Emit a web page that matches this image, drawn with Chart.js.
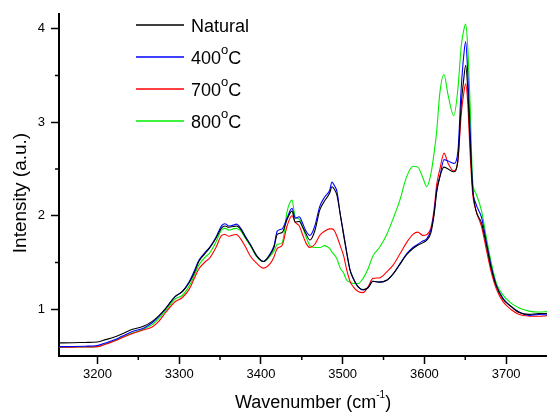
<!DOCTYPE html>
<html>
<head>
<meta charset="utf-8">
<script src="https://cdn.jsdelivr.net/npm/chart.js@4.4.1/dist/chart.umd.min.js"></script>
<style>
  html, body { margin: 0; padding: 0; background: #fff; }
  #wrap { width: 547px; height: 416px; }
</style>
</head>
<body>
<div id="wrap"><canvas id="chart"></canvas></div>
<script>
// wavenumber (cm-1) sample positions
const wavenumber = [3153,3170,3185,3200,3210,3220,3230,3243,3257,3267,3275,3283,3295,3304,3312,3318,3324,3331,3338,3345,
  3352,3356,3361,3366,3370,3375,3381,3387,3395,3403,3411,3416,3420,3426,3432,3438,3442,3447,3451,3455,
  3460,3466,3472,3478,3484,3487,3490,3493,3497,3501,3505,3509,3513,3519,3525,3531,3537,3545,3554,3562,
  3570,3578,3586,3592,3598,3603,3608,3612,3615,3619,3624,3629,3636,3641,3645,3648,3650.5,3653,3656,3659,
  3663,3670,3676,3682,3688,3696,3706,3716,3728,3740,3750];

const natural = [0.64,0.642,0.645,0.65,0.675,0.70,0.735,0.785,0.82,0.87,0.93,1.005,1.135,1.19,1.28,1.38,1.51,1.59,1.665,1.76,
  1.87,1.89,1.877,1.885,1.89,1.86,1.77,1.69,1.57,1.51,1.58,1.66,1.80,1.82,1.96,2.05,1.93,1.94,1.88,1.81,
  1.74,1.84,2.06,2.16,2.24,2.31,2.28,2.22,2.02,1.80,1.60,1.42,1.33,1.24,1.21,1.23,1.30,1.29,1.31,1.38,
  1.48,1.58,1.65,1.685,1.71,1.74,1.82,2.02,2.25,2.42,2.52,2.50,2.47,2.60,3.18,3.45,3.61,3.36,2.78,2.30,
  2.06,1.92,1.68,1.43,1.25,1.11,1.03,0.965,0.945,0.955,0.955];

const c400 = [0.60,0.602,0.605,0.612,0.64,0.67,0.71,0.762,0.80,0.855,0.92,1.0,1.135,1.19,1.29,1.40,1.52,1.60,1.67,1.77,
  1.894,1.915,1.89,1.90,1.91,1.87,1.78,1.695,1.57,1.51,1.59,1.68,1.835,1.86,1.975,2.08,1.975,1.99,1.92,1.84,
  1.79,1.89,2.10,2.20,2.27,2.36,2.32,2.26,2.02,1.82,1.61,1.42,1.33,1.24,1.206,1.23,1.30,1.29,1.31,1.38,
  1.485,1.59,1.66,1.695,1.73,1.755,1.85,2.04,2.27,2.42,2.60,2.585,2.56,2.69,3.355,3.70,3.86,3.53,2.90,2.30,
  2.13,1.98,1.71,1.45,1.255,1.12,1.03,0.97,0.935,0.944,0.94];

const c700 = [0.594,0.595,0.597,0.60,0.625,0.657,0.695,0.74,0.78,0.81,0.87,0.96,1.08,1.126,1.21,1.32,1.43,1.50,1.555,1.66,
  1.79,1.80,1.78,1.795,1.80,1.755,1.67,1.57,1.49,1.44,1.485,1.56,1.65,1.685,1.89,2.0,1.93,1.89,1.80,1.71,
  1.66,1.695,1.79,1.835,1.86,1.86,1.84,1.78,1.68,1.58,1.42,1.30,1.24,1.19,1.178,1.24,1.33,1.335,1.40,1.475,
  1.59,1.71,1.80,1.825,1.79,1.80,1.87,2.08,2.33,2.50,2.67,2.56,2.48,2.585,3.075,3.30,3.41,3.21,2.66,2.24,
  2.06,1.88,1.63,1.39,1.22,1.084,0.997,0.944,0.927,0.925,0.93];

const c800 = [0.594,0.595,0.597,0.60,0.63,0.66,0.70,0.745,0.79,0.835,0.90,0.98,1.11,1.15,1.245,1.35,1.47,1.55,1.61,1.72,
  1.85,1.865,1.846,1.86,1.865,1.84,1.76,1.68,1.56,1.51,1.566,1.62,1.695,1.71,2.045,2.167,1.985,1.965,1.88,1.78,
  1.68,1.66,1.66,1.68,1.65,1.61,1.58,1.54,1.44,1.39,1.31,1.29,1.276,1.276,1.33,1.43,1.57,1.66,1.80,1.975,
  2.167,2.41,2.53,2.52,2.41,2.31,2.45,2.68,2.90,3.32,3.51,3.29,3.07,3.355,3.81,3.98,4.05,3.81,3.18,2.38,
  2.24,2.05,1.76,1.49,1.28,1.154,1.066,1.014,0.98,0.97,0.975];

const seriesNames = ['Natural', '400°C', '700°C', '800°C'];
const xTicks = [3200, 3300, 3400, 3500, 3600, 3700];
const xMinor = [3250, 3350, 3450, 3550, 3650, 3750];
const yTicks = [1, 2, 3, 4];
const yMinor = [1.5, 2.5, 3.5];

const colors = ['#000000', '#0000ff', '#ff0000', '#00ee00'];
const FONT = 'Liberation Sans, Arial, sans-serif';

function points(vals) {
  return wavenumber.map((x, i) => ({ x: x, y: vals[i] }));
}

// text with an optional raised part, e.g. 400°C -> 400 + superscript o + C
function drawSupText(ctx, parts, x, y, size, supSize, raise) {
  let cx = x;
  parts.forEach(p => {
    ctx.font = (p.sup ? supSize : size) + 'px ' + FONT;
    ctx.fillText(p.t, cx, p.sup ? y - raise : y);
    cx += ctx.measureText(p.t).width;
  });
  return cx - x;
}
function measureSup(ctx, parts, size, supSize) {
  let w = 0;
  parts.forEach(p => { ctx.font = (p.sup ? supSize : size) + 'px ' + FONT; w += ctx.measureText(p.t).width; });
  return w;
}
function nameParts(name) {
  const i = name.indexOf('°');
  if (i < 0) return [{ t: name }];
  return [{ t: name.slice(0, i) }, { t: 'o', sup: true }, { t: name.slice(i + 1) }];
}

const decor = {
  id: 'decor',
  afterDraw(chart) {
    const { ctx, chartArea, scales } = chart;
    const x = scales.x, y = scales.y;
    ctx.save();
    // minor ticks
    ctx.strokeStyle = '#000';
    ctx.lineWidth = 1.5;
    ctx.beginPath();
    xMinor.forEach(v => {
      const px = x.getPixelForValue(v);
      if (px > chartArea.right - 1) return;
      ctx.moveTo(px, chartArea.bottom);
      ctx.lineTo(px, chartArea.bottom + 4);
    });
    yMinor.forEach(v => {
      const py = y.getPixelForValue(v);
      ctx.moveTo(chartArea.left, py);
      ctx.lineTo(chartArea.left - 4, py);
    });
    ctx.stroke();

    ctx.fillStyle = '#000';
    ctx.textBaseline = 'alphabetic';
    ctx.textAlign = 'left';

    // legend
    seriesNames.forEach((name, i) => {
      const ly = 25 + i * 32;
      ctx.strokeStyle = colors[i];
      ctx.lineWidth = 1.4;
      ctx.beginPath();
      ctx.moveTo(136, ly);
      ctx.lineTo(184, ly);
      ctx.stroke();
      drawSupText(ctx, nameParts(name), 191, ly + 7, 18, 13, 10);
    });

    // x axis title
    const xt = [{ t: 'Wavenumber (cm' }, { t: '-1', sup: true }, { t: ')' }];
    const w = measureSup(ctx, xt, 18, 10);
    drawSupText(ctx, xt, 313 - w / 2, 408, 18, 10, 10);

    // y axis title
    ctx.translate(26, 193);
    ctx.rotate(-Math.PI / 2);
    ctx.textAlign = 'center';
    ctx.font = '19px ' + FONT;
    ctx.fillText('Intensity (a.u.)', 0, 0);
    ctx.restore();
  }
};

const datasets = [natural, c400, c700, c800].map((vals, i) => ({
  label: seriesNames[i],
  data: points(vals),
  borderColor: colors[i],
  borderWidth: 1.1,
  pointRadius: 0,
  fill: false,
  cubicInterpolationMode: 'monotone'
}));

new Chart(document.getElementById('chart'), {
  type: 'line',
  data: { datasets: datasets },
  options: {
    responsive: true,
    maintainAspectRatio: false,
    animation: false,
    layout: { padding: { top: 6, right: 0, left: 0, bottom: 0 } },
    plugins: { legend: { display: false }, tooltip: { enabled: false } },
    scales: {
      x: {
        type: 'linear', min: 3153, max: 3750,
        border: { display: true, color: '#000', width: 2 },
        grid: { drawOnChartArea: false, drawTicks: true, tickLength: 8, tickColor: '#000', tickWidth: 1.5 },
        ticks: { color: '#000', font: { family: FONT, size: 13 }, padding: 3, maxRotation: 0, autoSkip: false,
          callback: v => String(v) },
        afterBuildTicks: s => { s.ticks = xTicks.map(v => ({ value: v })); },
        afterFit: s => { s.height = 60; }
      },
      y: {
        type: 'linear', min: 0.5, max: 4.16,
        border: { display: true, color: '#000', width: 2 },
        grid: { drawOnChartArea: false, drawTicks: true, tickLength: 8, tickColor: '#000', tickWidth: 1.5 },
        ticks: { color: '#000', font: { family: FONT, size: 13 }, padding: 6, callback: v => String(v) },
        afterBuildTicks: s => { s.ticks = yTicks.map(v => ({ value: v })); },
        afterFit: s => { s.width = 59; }
      }
    }
  },
  plugins: [decor]
});
</script>
</body>
</html>
